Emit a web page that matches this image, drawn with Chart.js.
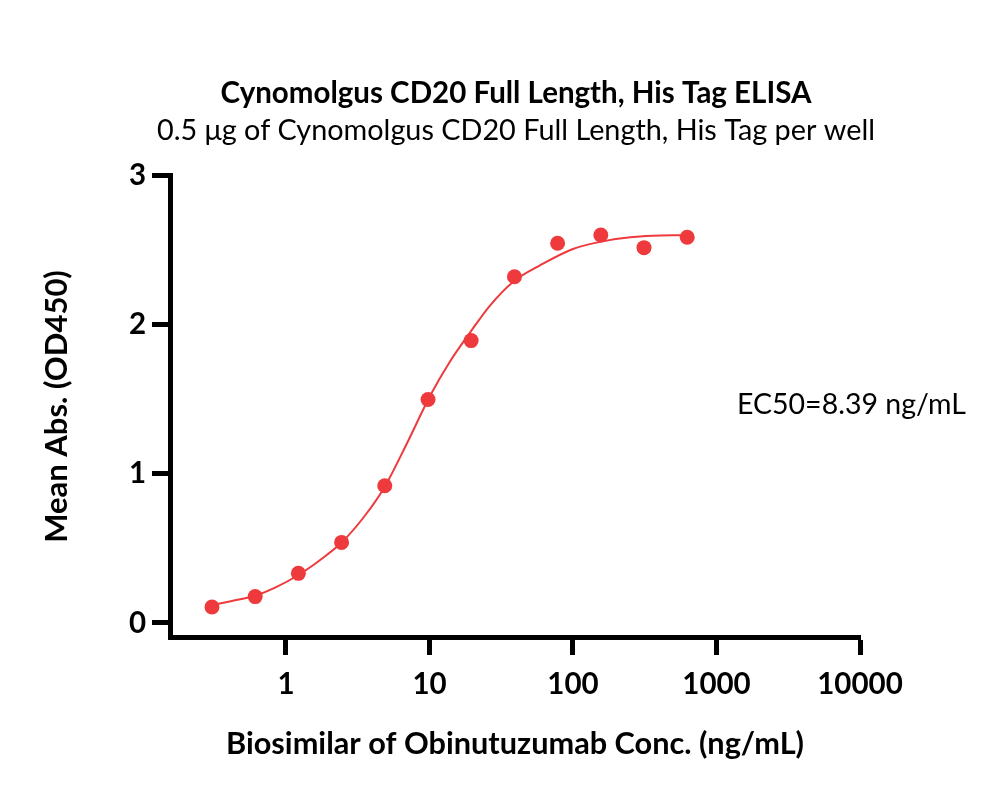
<!DOCTYPE html>
<html>
<head>
<meta charset="utf-8">
<script src="https://cdn.jsdelivr.net/npm/chart.js@4.4.1/dist/chart.umd.min.js"></script>
<style>
  html, body { margin: 0; padding: 0; background: #fff; }
  #wrap { width: 1000px; height: 795px; position: relative; }
</style>
</head>
<body>
<div id="wrap"><canvas id="elisa"></canvas></div>
<script>
// concentrations (ng/mL), 2-fold dilution series
const conc = [0.305, 0.61, 1.22, 2.44, 4.88, 9.77, 19.5, 39.1, 78.1, 156.3, 312.5, 625];
// mean OD450
const od450 = [0.107, 0.177, 0.333, 0.541, 0.921, 1.50, 1.895, 2.324, 2.548, 2.604, 2.519, 2.589];

// fitted curve
const fitX = [0.305, 0.42, 0.61, 0.84, 1.22, 1.73, 2.44, 3.5, 4.88, 7.0, 10.1, 13.9, 19.2, 26.4, 38.4, 58.9, 100, 172, 293, 625];
const fitY = [0.12, 0.148, 0.183, 0.237, 0.322, 0.423, 0.54, 0.713, 0.915, 1.21, 1.525, 1.755, 1.95, 2.13, 2.29, 2.40, 2.51, 2.566, 2.593, 2.604];

const xTicks = [1, 10, 100, 1000, 10000];
const xTickLabels = ["1", "10", "100", "1000", "10000"];
const yTicks = [0, 1, 2, 3];

const ec50Text = "EC50=8.39 ng/mL";
const red = "#EE3A3D";
const fontFam = "Lato, 'Open Sans', sans-serif";

const ec50Label = {
  id: "ec50Label",
  afterDraw(chart) {
    const ctx = chart.ctx;
    ctx.save();
    ctx.font = "28.5px " + fontFam;
    ctx.fillStyle = "#000";
    ctx.textAlign = "left";
    ctx.textBaseline = "middle";
    ctx.fillText(ec50Text, 737, 405);
    ctx.restore();
  }
};

new Chart(document.getElementById("elisa"), {
  type: "scatter",
  data: {
    datasets: [
      {
        label: "fit",
        data: fitX.map((x, i) => ({ x: x, y: fitY[i] })),
        showLine: true,
        borderColor: red,
        borderWidth: 2,
        pointRadius: 0,
        cubicInterpolationMode: "monotone",
        fill: false,
      },
      {
        label: "data",
        data: conc.map((x, i) => ({ x: x, y: od450[i] })),
        backgroundColor: red,
        borderColor: red,
        pointRadius: 7.5,
        pointBorderWidth: 0,
      },
    ],
  },
  options: {
    responsive: true,
    maintainAspectRatio: false,
    animation: false,
    layout: {
      padding: { left: 33, right: 1, top: 0, bottom: 30 },
    },
    scales: {
      x: {
        type: "logarithmic",
        min: 0.1555,
        max: 10000,
        afterBuildTicks: (scale) => {
          scale.ticks = xTicks.map((v) => ({ value: v }));
        },
        afterFit: (scale) => {
          scale.height = 128;
        },
        ticks: {
          callback: (v, i) => xTickLabels[i],
          color: "#000",
          padding: 12,
          maxRotation: 0,
          autoSkip: false,
          font: { family: fontFam, size: 29.5, weight: "bold" },
        },
        grid: {
          drawOnChartArea: false,
          drawTicks: true,
          tickLength: 18,
          tickWidth: 5,
          tickColor: "#000",
        },
        border: { display: true, width: 5, color: "#000" },
        title: {
          display: true,
          text: "Biosimilar of Obinutuzumab Conc. (ng/mL)",
          color: "#000",
          font: { family: fontFam, size: 30.7, weight: "bold" },
          padding: { top: 10, bottom: 2 },
        },
      },
      y: {
        min: -0.094,
        max: 3,
        afterBuildTicks: (scale) => {
          scale.ticks = yTicks.map((v) => ({ value: v }));
        },
        afterFit: (scale) => {
          scale.width = 137;
        },
        ticks: {
          color: "#000",
          padding: 6,
          font: { family: fontFam, size: 29.5, weight: "bold" },
        },
        grid: {
          drawOnChartArea: false,
          drawTicks: true,
          tickLength: 18,
          tickWidth: 5,
          tickColor: "#000",
        },
        border: { display: true, width: 5, color: "#000" },
        title: {
          display: true,
          text: "Mean Abs. (OD450)",
          color: "#000",
          font: { family: fontFam, size: 31, weight: "bold" },
          padding: { top: 5, bottom: 10 },
        },
      },
      // empty right-hand box so the titles centre over the plot like the original
      yRight: {
        position: "right",
        min: -0.094,
        max: 3,
        afterFit: (scale) => {
          scale.width = 139;
        },
        ticks: { display: false },
        grid: { display: false },
        border: { display: false },
      },
    },
    plugins: {
      legend: { display: false },
      tooltip: { enabled: false },
      title: {
        display: true,
        text: "Cynomolgus CD20 Full Length, His Tag ELISA",
        color: "#000",
        font: { family: fontFam, size: 29.5, weight: "bold" },
        padding: { top: 75.3, bottom: 3 },
      },
      subtitle: {
        display: true,
        text: "0.5 μg of Cynomolgus CD20 Full Length, His Tag per well",
        color: "#000",
        font: { family: fontFam, size: 28.8 },
        padding: { top: 0, bottom: 27.7 },
      },
    },
  },
  plugins: [ec50Label],
});
</script>
</body>
</html>
